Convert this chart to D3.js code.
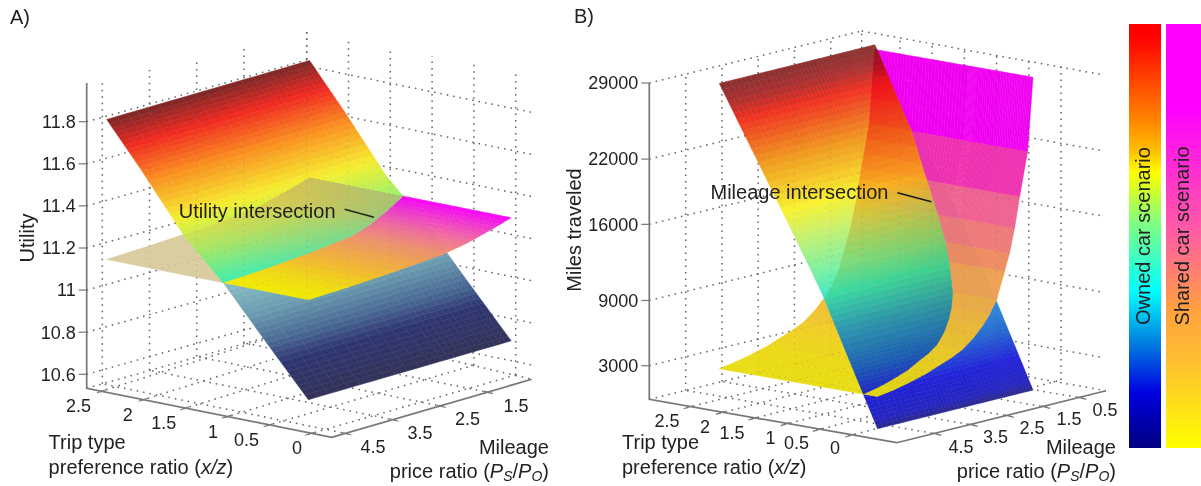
<!DOCTYPE html>
<html>
<head>
<meta charset="utf-8">
<script src="https://d3js.org/d3.v7.min.js"></script>
<style>
  body { margin: 0; background: #fff; }
  svg { display: block; filter: blur(0.4px); }
  text { font-family: "Liberation Sans", Arial, sans-serif; fill: #222; }
</style>
</head>
<body>
<svg id="chart" width="1201" height="486"></svg>
<script>
'use strict';

// tick labels
var xTicks = [2.5, 2, 1.5, 1, 0.5, 0];
var priceTicksA = [4.5, 3.5, 2.5, 1.5];
var priceTicksB = [4.5, 3.5, 2.5, 1.5, 0.5];
var utilityTicks = [10.6, 10.8, 11, 11.2, 11.4, 11.6, 11.8];
var milesTicks = [3000, 9000, 16000, 22000, 29000];

// panel A values
var utilityOwnedX = [0, 0.5, 1, 1.5, 2, 2.42];
var utilityOwned = [10.69, 10.92, 11.155, 11.355, 11.62, 11.83];
var utilitySharedP = [0.56, 1, 1.5, 2, 3, 4, 4.85];
var utilityShared = [11.275, 11.245, 11.215, 11.195, 11.18, 11.17, 11.165];

// panel B values
var milesOwnedX = [0, 0.25, 0.5, 0.86, 1, 1.5, 2, 2.45];
var milesOwned = [-250, 3100, 6450, 11300, 12900, 18500, 24000, 28950];
var milesSharedP = [0.55, 0.7, 0.92, 1.06, 1.2, 1.34, 1.56, 1.75, 1.93, 2.2, 2.5, 2.8, 3.13, 3.5, 4, 4.4, 4.85];
var milesShared = [28520, 21800, 17840, 15050, 12860, 11290, 8870, 7700, 6870, 5900, 5100, 4600, 4190, 3700, 3250, 2950, 2710];

// legend ramps, top to bottom
var ownedRamp = ['#ff0000', '#ff8000', '#ffc000', '#ffff00', '#80ff80', '#00ffff', '#0080e0', '#0000e0', '#000080'];
var ownedRampAt = [0.03, 0.22, 0.3, 0.35, 0.47, 0.63, 0.75, 0.87, 1];
var sharedRamp = ['#ff00ff', '#ff00ff', '#ff60a0', '#ffa040', '#ffc030', '#ffff00'];
var sharedRampAt = [0, 0.2, 0.5, 0.67, 0.8, 1];

var milesSharedColors = [[3000, '#e8dc10'], [4500, '#f0d020'], [6000, '#f0c030'], [7870, '#eeb040'], [10080, '#eea050'], [12075, '#ee8a60'], [13955, '#ee7878'], [16445, '#ee6090'], [19820, '#ee30b0'], [25160, '#f000f0']];

var svg = d3.select('#chart');
var defs = svg.append('defs');

var panelA = {
  id: 'a',
  L: [86.7, 388.3], F: [331.7, 437.3], R: [531.7, 379.3], B: [306.7, 326],
  xDomain: [-0.28, 2.66], pDomain: [4.85, 0.62],
  zY: d3.scaleLinear().domain([10.6, 11.8]).range([374.3, 121.7]),
  zTicks: utilityTicks, pTicks: priceTicksA,
  ownedX: utilityOwnedX, owned: utilityOwned, sharedP: utilitySharedP, shared: utilityShared,
  xSub: 12, pSub: 4, flatBands: false,
  ownedHigh: [[11.17, '#3cf0b0'], [11.3, '#a8f060'], [11.42, '#f6ee30'], [11.58, '#fa9020'], [11.72, '#f02820'], [11.83, '#7a2828']],
  ownedLow: [[10.69, '#333358'], [10.84, '#2f3572'], [10.92, '#4a6a95'], [11.03, '#6c9cb0'], [11.17, '#8cc0c8'], [11.28, '#80b0c0']],
  sharedHigh: [[11.165, '#f4ee00'], [11.178, '#f4b830'], [11.196, '#f09070'], [11.23, '#f05ab0'], [11.26, '#f020e0'], [11.275, '#f800f8']],
  sharedLow: [[11.16, '#d8cc9e'], [11.28, '#d8cc9e']],
  // the tan sheet shows through the owned surface more strongly towards the back
  veil: [[11.165, 'rgba(216,180,120,0.04)'], [11.19, 'rgba(216,170,100,0.3)'], [11.23, 'rgba(208,165,100,0.55)'], [11.275, 'rgba(176,165,120,0.6)']],
  veilMode: 'normal', veilOpacity: 1, veilStroke: 0,
  // front and back positions of the tick lines on floor and walls
  xFront: { x: [100, 308.3], y: [391.7, 434.3] },
  xBack: { x: [306.7, 515.7], y: [326, 375] },
  pFront: { x: [348.3, 490], y: [434, 392.7] },
  pBack: { x: [102.3, 243.9], y: [383.8, 343] },
  leftTop: { x: [102.3, 306.7], y: [81.7, 30.7] },
  rightTop: { x: [306.7, 515.7], y: [30.7, 73] },
  wallShift: { leftB: -61.7, rightB: -55.7, rightEnd: -9.3 }, wallEndX: 532,
  axisTop: 83
};

var panelB = {
  id: 'b',
  L: [649.3, 399.3], F: [896.7, 442.7], R: [1106, 390.7], B: [861.7, 347.3],
  xDomain: [-0.75, 3.08], pDomain: [5.66, -0.13],
  zY: d3.scaleLinear().domain([3000, 29000]).range([365.7, 83]),
  zTicks: milesTicks, pTicks: priceTicksB,
  ownedX: milesOwnedX, owned: milesOwned, sharedP: milesSharedP, shared: milesShared,
  xSub: 10, pSub: 3, flatBands: true,
  ownedHigh: [[-250, '#2a2a88'], [2500, '#2020d0'], [5000, '#1c60c0'], [8000, '#3098c0'], [11130, '#40e8c0'], [13250, '#80f0a0'], [16000, '#c8f070'], [18200, '#f8f030'], [22170, '#f09a20'], [25900, '#f03020'], [27500, '#a83030'], [28950, '#8a3030']],
  ownedLow: [[-250, '#2a2a88'], [500, '#2424c0'], [2500, '#2020d8'], [5000, '#2468d0'], [8000, '#3098e0'], [12000, '#3098e0']],
  sharedHigh: milesSharedColors,
  sharedLow: milesSharedColors,
  veil: [[3000, '#f4fff4'], [6000, '#e0f4e0'], [10000, '#f8e4b8'], [14000, '#ffcc90'], [20000, '#ff90a0'], [28000, '#ff30a0']],
  veilMode: 'multiply', veilOpacity: 0.85, veilStroke: 0.5,
  xFront: { x: [686.7, 848.3], y: [407.7, 436] },
  xBack: { x: [900, 1061], y: [354.3, 380] },
  pFront: { x: [938.3, 1083.3], y: [434.3, 398.3] },
  pBack: { x: [685.7, 830.7], y: [390.4, 354.8] },
  leftTop: { x: [685.7, 861.7], y: [73.3, 31] },
  rightTop: { x: [861.7, 1061], y: [31, 66] },
  wallShift: { leftB: -52, rightB: -52, rightEnd: -8 }, wallEndX: 1104,
  axisTop: 83
};

function lerpScale(d, r) {
  return d3.scaleLinear().domain(d).range(r);
}

// screen position of a surface point, floor offset plus height above the floor
function makeProject(panel) {
  var toL = lerpScale(panel.xDomain, [0, 1]);
  var toR = lerpScale(panel.pDomain, [0, 1]);
  return function(x, p, z) {
    var a = toL(x), b = toR(p);
    return [
      panel.F[0] + a * (panel.L[0] - panel.F[0]) + b * (panel.R[0] - panel.F[0]),
      panel.F[1] + a * (panel.L[1] - panel.F[1]) + b * (panel.R[1] - panel.F[1]) - (panel.L[1] - panel.zY(z))
    ];
  };
}

function subdivide(values, n) {
  var out = [];
  d3.pairs(values).forEach(function(pair) {
    d3.range(n).forEach(function(i) { out.push(pair[0] + (pair[1] - pair[0]) * i / n); });
  });
  out.push(values[values.length - 1]);
  return out;
}

function ramp(stops) {
  return d3.scaleLinear().domain(stops.map(function(s) { return s[0]; }))
    .range(stops.map(function(s) { return s[1]; })).clamp(true);
}

// keep the part of a cell where sign * f >= 0
function clipCell(cell, sign) {
  var out = [];
  cell.forEach(function(v, i) {
    var w = cell[(i + 1) % cell.length];
    var fv = sign * v.f, fw = sign * w.f;
    if (fv >= 0) out.push(v);
    if ((fv >= 0) !== (fw >= 0)) {
      var t = fv / (fv - fw);
      out.push({ x: v.x + (w.x - v.x) * t, p: v.p + (w.p - v.p) * t, z: v.z + (w.z - v.z) * t, f: 0 });
    }
  });
  return out;
}

function drawGrid(g, panel, opacity) {
  var grid = g.append('g').attr('fill', 'none').attr('stroke', '#666').attr('stroke-width', 1.5)
    .attr('stroke-dasharray', '1.5 5').attr('opacity', opacity);
  var segs = [];
  var L = panel.L, B = panel.B, R = panel.R;

  // height lines round the two back walls
  panel.zTicks.forEach(function(t) {
    var y = panel.zY(t), s = panel.wallShift;
    segs.push([[L[0], y], [B[0], y + s.leftB]]);
    segs.push([[B[0], y + s.rightB], [panel.wallEndX, y + s.rightEnd]]);
  });

  // trip type lines, floor and right wall
  var xfx = lerpScale([2.5, 0], panel.xFront.x), xfy = lerpScale([2.5, 0], panel.xFront.y);
  var xbx = lerpScale([2.5, 0], panel.xBack.x), xby = lerpScale([2.5, 0], panel.xBack.y);
  var rtop = lerpScale(panel.rightTop.x, panel.rightTop.y);
  xTicks.forEach(function(t) {
    segs.push([[xfx(t), xfy(t)], [xbx(t), xby(t)]]);
    segs.push([[xbx(t), xby(t)], [xbx(t), rtop(xbx(t))]]);
  });

  // price lines, floor and left wall
  var first = panel.pTicks[0], last = panel.pTicks[panel.pTicks.length - 1];
  var pfx = lerpScale([first, last], panel.pFront.x), pfy = lerpScale([first, last], panel.pFront.y);
  var pbx = lerpScale([first, last], panel.pBack.x), pby = lerpScale([first, last], panel.pBack.y);
  var ltop = lerpScale(panel.leftTop.x, panel.leftTop.y);
  panel.pTicks.forEach(function(t) {
    segs.push([[pfx(t), pfy(t)], [pbx(t), pby(t)]]);
    segs.push([[pbx(t), pby(t)], [pbx(t), ltop(pbx(t))]]);
  });

  segs.push([[B[0], B[1]], [B[0], panel.leftTop.y[1]]]);
  segs.push([[L[0], L[1]], [B[0], B[1]]]);
  segs.push([[B[0], B[1]], [R[0], R[1]]]);

  grid.selectAll('path').data(segs).join('path').attr('d', d3.line());
}

function drawCells(g, cells, project, strokeWidth) {
  g.selectAll('polygon').data(cells).join('polygon')
    .attr('points', function(d) {
      return d.poly.map(function(v) { return project(v.x, v.p, v.z).join(','); }).join(' ');
    })
    .attr('fill', function(d) { return d.color; })
    .attr('stroke', function(d) { return strokeWidth ? d.color : 'none'; })
    .attr('stroke-width', strokeWidth);
}

function drawSurfaces(panel) {
  var project = makeProject(panel);
  var ownedAt = lerpScale(panel.ownedX, panel.owned);
  var sharedAt = lerpScale(panel.sharedP, panel.shared);
  var xs = subdivide(panel.ownedX, panel.xSub);
  var ps = subdivide(panel.sharedP, panel.pSub);

  var ownedCells = [], sharedCells = [];
  d3.pairs(xs).forEach(function(xr) {
    d3.pairs(ps).forEach(function(pr, pi) {
      var corners = [[xr[0], pr[0]], [xr[1], pr[0]], [xr[1], pr[1]], [xr[0], pr[1]]];
      var f = corners.map(function(c) { return ownedAt(c[0]) - sharedAt(c[1]); });
      var level = (sharedAt(pr[0]) + sharedAt(pr[1])) / 2;
      // shared facets in panel B are flat, one colour per row of the data
      var row = Math.floor(pi / panel.pSub);
      var band = panel.flatBands ? (panel.shared[row] + panel.shared[row + 1]) / 2 : level;
      ownedCells.push({
        level: (ownedAt(xr[0]) + ownedAt(xr[1])) / 2,
        verts: corners.map(function(c, i) { return { x: c[0], p: c[1], z: ownedAt(c[0]), f: f[i] }; })
      });
      sharedCells.push({
        level: level, band: band,
        verts: corners.map(function(c, i) { return { x: c[0], p: c[1], z: sharedAt(c[1]), f: f[i] }; })
      });
    });
  });

  function part(cells, sign, stops, key) {
    var color = ramp(stops);
    return cells.map(function(c) {
      return { poly: clipCell(c.verts, sign), color: color(c[key]) };
    }).filter(function(c) { return c.poly.length > 2; });
  }

  // clip for the see-through tint: outline of the owned surface
  var p0 = panel.sharedP[0], p1 = panel.sharedP[panel.sharedP.length - 1];
  var outline = xs.map(function(x) { return project(x, p0, ownedAt(x)); })
    .concat(xs.slice().reverse().map(function(x) { return project(x, p1, ownedAt(x)); }));
  defs.append('clipPath').attr('id', 'owned-' + panel.id).append('polygon').attr('points', outline.join(' '));

  var surf = svg.append('g');
  drawCells(surf.append('g'), part(ownedCells, -1, panel.ownedLow, 'level'), project, 0.5);
  drawCells(surf.append('g'), part(sharedCells, 1, panel.sharedLow, 'band'), project, 0.5);
  drawCells(surf.append('g'), part(sharedCells, -1, panel.sharedHigh, 'band'), project, 0.5);
  drawCells(surf.append('g'), part(ownedCells, 1, panel.ownedHigh, 'level'), project, 0.5);

  var veil = surf.append('g').attr('clip-path', 'url(#owned-' + panel.id + ')')
    .style('mix-blend-mode', panel.veilMode).attr('opacity', panel.veilOpacity);
  if (!panel.veilStroke) veil.attr('shape-rendering', 'crispEdges');
  drawCells(veil, part(sharedCells, 1, panel.veil, 'level'), project, panel.veilStroke);
}

function drawAxes(panel) {
  var g = svg.append('g').attr('fill', 'none').attr('stroke', '#777').attr('stroke-width', 1.7);
  var L = panel.L, F = panel.F, R = panel.R;
  g.append('path').attr('d', d3.line()([[L[0], panel.axisTop], L, F, R]));

  g.selectAll('.ztick').data(panel.zTicks).join('line').attr('class', 'ztick')
    .attr('x1', L[0] - 8).attr('x2', L[0])
    .attr('y1', function(d) { return panel.zY(d); }).attr('y2', function(d) { return panel.zY(d); })
    .attr('stroke-width', 1.2);

  var xfx = lerpScale([2.5, 0], panel.xFront.x), xfy = lerpScale([2.5, 0], panel.xFront.y);
  g.selectAll('.xtick').data(xTicks).join('line').attr('class', 'xtick')
    .attr('x1', function(d) { return xfx(d) - 3; }).attr('x2', function(d) { return xfx(d) + 6; })
    .attr('y1', function(d) { return xfy(d) + 1; }).attr('y2', function(d) { return xfy(d) - 2; })
    .attr('stroke-width', 1.2);

  var first = panel.pTicks[0], last = panel.pTicks[panel.pTicks.length - 1];
  var pfx = lerpScale([first, last], panel.pFront.x), pfy = lerpScale([first, last], panel.pFront.y);
  g.selectAll('.ptick').data(panel.pTicks).join('line').attr('class', 'ptick')
    .attr('x1', function(d) { return pfx(d) - 6; }).attr('x2', function(d) { return pfx(d) + 3; })
    .attr('y1', function(d) { return pfy(d) - 1.5; }).attr('y2', function(d) { return pfy(d) + 1; })
    .attr('stroke-width', 1.2);
}

function label(x, y, str, size, anchor, rotate) {
  var t = svg.append('text').attr('font-size', size).attr('text-anchor', anchor || 'start').attr('dy', '.35em');
  if (rotate) t.attr('transform', 'translate(' + x + ',' + y + ') rotate(-90)');
  else t.attr('x', x).attr('y', y);
  t.text(str);
  return t;
}

function spans(t, parts) {
  t.text(null);
  parts.forEach(function(s) {
    var ts = t.append('tspan').text(s.t);
    if (s.i) ts.attr('font-style', 'italic');
    if (s.size) ts.attr('font-size', s.size);
    if (s.dy) ts.attr('dy', s.dy);
  });
}

function tickLabels(ticks, positions) {
  ticks.forEach(function(t, i) {
    label(positions[i][0], positions[i][1], String(t), 18, 'middle');
  });
}

function axisTitles(trip, mileage) {
  label(trip[0], trip[1], 'Trip type', 20);
  spans(label(trip[0], trip[1] + 25, '', 20), [
    { t: 'preference ratio (' }, { t: 'x/z', i: true }, { t: ')' }
  ]);
  label(mileage[0], mileage[1], 'Mileage', 20, 'end');
  spans(label(mileage[0], mileage[1] + 24, '', 20, 'end'), [
    { t: 'price ratio (' }, { t: 'P', i: true }, { t: 'S', i: true, size: 14, dy: 3 }, { t: '/', dy: -3 },
    { t: 'P', i: true }, { t: 'O', i: true, size: 14, dy: 3 }, { t: ')', dy: -3 }
  ]);
}

function drawPanel(panel) {
  drawGrid(svg.append('g'), panel, 1);
  drawSurfaces(panel);
  drawGrid(svg.append('g'), panel, 0.13);
  drawAxes(panel);
  panel.zTicks.forEach(function(t) {
    label(panel.L[0] - 11, panel.zY(t), String(t), 18, 'end');
  });
}

drawPanel(panelA);
drawPanel(panelB);

// panel A text
label(10, 17, 'A)', 20);
label(27, 238, 'Utility', 20, 'middle', true);
tickLabels(xTicks, [[78.4, 406], [127.7, 415], [163.7, 423], [213, 432], [246.4, 440], [297, 448]]);
tickLabels(priceTicksA, [[373, 447], [420, 433], [467.6, 419], [516, 406]]);
axisTitles([48.6, 442], [549, 447]);
label(178.8, 210.7, 'Utility intersection', 20);
svg.append('line').attr('x1', 344.6).attr('y1', 209.3).attr('x2', 374).attr('y2', 217.3)
  .attr('stroke', '#1a2a1a').attr('stroke-width', 1.4);

// panel B text
label(574, 16, 'B)', 20);
label(574, 230, 'Miles traveled', 20, 'middle', true);
tickLabels(xTicks, [[667, 421], [705, 427], [732, 433], [770.6, 438], [796.4, 443], [835, 448]]);
tickLabels(priceTicksB, [[961, 447], [995.6, 437], [1032, 428], [1069, 419], [1105, 410]]);
axisTitles([622, 442], [1116, 447]);
label(710.5, 192, 'Mileage intersection', 20);
svg.append('line').attr('x1', 897.4).attr('y1', 192.7).attr('x2', 931.4).attr('y2', 201.7)
  .attr('stroke', '#1a1a1a').attr('stroke-width', 1.4);

// colour legend
function legendBar(id, x, w, colors, at) {
  var grad = defs.append('linearGradient').attr('id', id).attr('x1', 0).attr('x2', 0).attr('y1', 0).attr('y2', 1);
  grad.selectAll('stop').data(colors).join('stop')
    .attr('offset', function(d, i) { return at[i]; })
    .attr('stop-color', function(d) { return d; });
  svg.append('rect').attr('x', x).attr('y', 24).attr('width', w).attr('height', 424)
    .attr('fill', 'url(#' + id + ')');
}
legendBar('owned-ramp', 1129, 32, ownedRamp, ownedRampAt);
legendBar('shared-ramp', 1166, 35, sharedRamp, sharedRampAt);
label(1143, 236, 'Owned car scenario', 20, 'middle', true);
label(1182, 236, 'Shared car scenario', 20, 'middle', true);
</script>
</body>
</html>
